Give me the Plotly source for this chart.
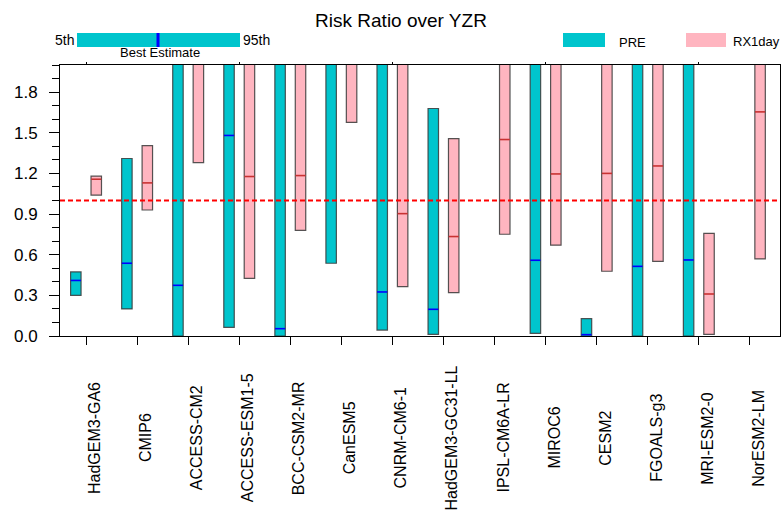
import numpy as np
import plotly.graph_objects as go

# Models along the x axis
models = ["HadGEM3-GA6", "CMIP6", "ACCESS-CM2", "ACCESS-ESM1-5", "BCC-CSM2-MR",
          "CanESM5", "CNRM-CM6-1", "HadGEM3-GC31-LL", "IPSL-CM6A-LR", "MIROC6",
          "CESM2", "FGOALS-g3", "MRI-ESM2-0", "NorESM2-LM"]

# PRE risk ratio: 5th percentile, best estimate, 95th percentile (nan = not available)
pre_p5 = [0.30, 0.20, 0.00, 0.064, 0.00, 0.537, 0.044, 0.012, np.nan, 0.02, 0.00, 0.00, 0.00, np.nan]
pre_best = [0.41, 0.537, 0.374, 1.48, 0.054, 2.40, 0.325, 0.197, np.nan, 0.559, 0.01, 0.514, 0.561, np.nan]
pre_p95 = [0.473, 1.31, 4.20, 5.00, 3.50, 6.00, 3.00, 1.679, np.nan, 3.20, 0.128, 3.80, 2.90, np.nan]

# RX1day risk ratio: 5th percentile, best estimate, 95th percentile
rx_p5 = [1.04, 0.93, 1.28, 0.426, 0.78, 1.576, 0.364, 0.32, 0.751, 0.67, 0.478, 0.551, 0.012, 0.569]
rx_best = [1.157, 1.13, 2.30, 1.177, 1.184, 2.50, 0.903, 0.734, 1.45, 1.196, 1.20, 1.255, 0.31, 1.654]
rx_p95 = [1.18, 1.405, 3.60, 2.60, 2.70, 3.90, 2.40, 1.457, 2.30, 2.50, 2.80, 2.70, 0.758, 2.40]

y_ticks = [0.0, 0.3, 0.6, 0.9, 1.2, 1.5, 1.8]
reference_ratio = 1.0

PRE_COLOR = "#00c5cd"
RX_COLOR = "#ffb5c0"
EDGE = "rgba(55,55,55,0.85)"

# figure geometry in pixels
W, H = 782, 511
L, R, T, B = 60, 2, 65, 175
PW, PH = W - L - R, H - T - B


def px_x(x):
    return (x - L) / PW


def px_y(y):
    return (H - B - y) / PH


idx = np.arange(len(models))
off = 0.2
bw = 0.205

pre_lo = np.array(pre_p5, float)
pre_hi = np.array(pre_p95, float)
rx_lo = np.array(rx_p5, float)
rx_hi = np.array(rx_p95, float)

fig = go.Figure()

fig.add_trace(go.Bar(
    x=idx - off, base=pre_lo, y=pre_hi - pre_lo, width=bw,
    marker=dict(color=PRE_COLOR, line=dict(color=EDGE, width=1.2)),
    name="PRE", showlegend=False))
fig.add_trace(go.Bar(
    x=idx + off, base=rx_lo, y=rx_hi - rx_lo, width=bw,
    marker=dict(color=RX_COLOR, line=dict(color=EDGE, width=1.2)),
    name="RX1day", showlegend=False))

# best-estimate ticks across each bar
fig.add_trace(go.Scatter(
    x=idx - off, y=pre_best, mode="markers", cliponaxis=True,
    marker=dict(symbol="line-ew", size=7.3, line=dict(color="#0000ff", width=1.6)),
    showlegend=False, hoverinfo="skip"))
fig.add_trace(go.Scatter(
    x=idx + off, y=rx_best, mode="markers", cliponaxis=True,
    marker=dict(symbol="line-ew", size=7.3, line=dict(color="#c83232", width=1.6)),
    showlegend=False, hoverinfo="skip"))

# top axis carrying the small upper ticks
fig.add_trace(go.Scatter(x=[0], y=[0], xaxis="x2", mode="markers",
                         marker=dict(opacity=0), showlegend=False, hoverinfo="skip"))

xr = [-0.51, 13.59]
fig.update_layout(
    width=W, height=H,
    margin=dict(l=L, r=R, t=T, b=B),
    paper_bgcolor="white", plot_bgcolor="white",
    barmode="overlay",
    font=dict(family="Liberation Sans, Arial, sans-serif", color="black"),
    title=dict(text="Risk Ratio over YZR", x=401 / W, xanchor="center",
               y=1 - 20 / H, yanchor="middle", font=dict(size=19)),
    xaxis=dict(range=xr, tickmode="array", tickvals=list(idx), showticklabels=False,
               ticks="outside", ticklen=8, tickcolor="black", tickwidth=1,
               showline=True, linecolor="black", linewidth=1, mirror=True,
               showgrid=False, zeroline=False, fixedrange=True),
    xaxis2=dict(range=xr, overlaying="x", side="top", tickmode="array",
                tickvals=[0, 3, 6, 9, 12], showticklabels=False,
                ticks="outside", ticklen=2, tickcolor="black", tickwidth=1,
                showline=False, showgrid=False, zeroline=False),
    yaxis=dict(range=[0, 2.0], tickmode="array", tickvals=y_ticks,
               ticktext=[f"{v:.1f}" for v in y_ticks],
               ticks="outside", ticklen=10, tickcolor="black", tickwidth=1,
               minor=dict(tickmode="linear", tick0=0, dtick=0.1, ticks="outside",
                          ticklen=7, tickcolor="black", tickwidth=1, showgrid=False),
               tickfont=dict(size=17), ticklabelstandoff=8,
               showline=True, linecolor="black", linewidth=1, mirror=True,
               showgrid=False, zeroline=False),
)

# reference line at a risk ratio of one
fig.add_shape(type="line", xref="paper", yref="y", x0=0, x1=1,
              y0=reference_ratio, y1=reference_ratio, layer="above",
              line=dict(color="#ff0000", width=2, dash="5px,3px"))

# rotated model names, centred below the axis
for i, m in enumerate(models):
    fig.add_annotation(x=i, xref="x", y=px_y(438), yref="paper", text=m,
                       textangle=-90, showarrow=False, xshift=8,
                       xanchor="center", yanchor="middle", font=dict(size=16))

# percentile key (top left)
fig.add_shape(type="rect", xref="paper", yref="paper",
              x0=px_x(77), x1=px_x(240), y0=px_y(47), y1=px_y(33),
              fillcolor=PRE_COLOR, line=dict(width=0))
fig.add_shape(type="line", xref="paper", yref="paper",
              x0=px_x(158), x1=px_x(158), y0=px_y(47), y1=px_y(33),
              line=dict(color="#0000ff", width=3))
fig.add_annotation(x=px_x(76), y=px_y(40), xref="paper", yref="paper", text="5th",
                   showarrow=False, xanchor="right", yanchor="middle", font=dict(size=14))
fig.add_annotation(x=px_x(241), y=px_y(40), xref="paper", yref="paper", text="95th",
                   showarrow=False, xanchor="left", yanchor="middle", font=dict(size=14))
fig.add_annotation(x=px_x(160), y=px_y(52), xref="paper", yref="paper", text="Best Estimate",
                   showarrow=False, xanchor="center", yanchor="middle", font=dict(size=13))

# series key (top right)
fig.add_shape(type="rect", xref="paper", yref="paper",
              x0=px_x(563), x1=px_x(605), y0=px_y(47), y1=px_y(33),
              fillcolor=PRE_COLOR, line=dict(width=0))
fig.add_annotation(x=px_x(617), y=px_y(42), xref="paper", yref="paper", text="PRE",
                   showarrow=False, xanchor="left", yanchor="middle", font=dict(size=13))
fig.add_shape(type="rect", xref="paper", yref="paper",
              x0=px_x(686), x1=px_x(726), y0=px_y(47), y1=px_y(33),
              fillcolor=RX_COLOR, line=dict(width=0))
fig.add_annotation(x=px_x(731), y=px_y(41), xref="paper", yref="paper", text="RX1day",
                   showarrow=False, xanchor="left", yanchor="middle", font=dict(size=13))

fig.write_html("out.html")
